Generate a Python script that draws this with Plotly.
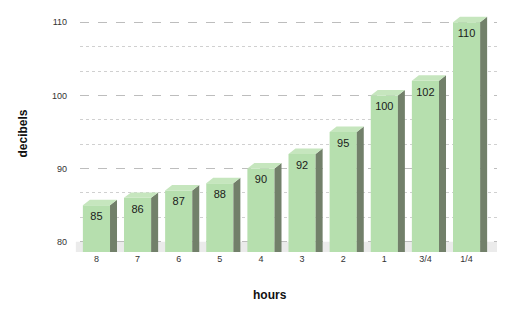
import plotly.graph_objects as go

hours = ["8", "7", "6", "5", "4", "3", "2", "1", "3/4", "1/4"]
decibels = [85, 86, 87, 88, 90, 92, 95, 100, 102, 110]
y_ticks = [80, 90, 100, 110]

base = 78.6
half = 0.33
dx = 0.17
dy = 0.75
xs = list(range(len(hours)))

front_c = "#b6dfae"
side_c = "#72806a"
top_c = "#c6e6be"

fig = go.Figure()

# floor
fig.add_shape(type="rect", xref="paper", yref="y", x0=-0.01, x1=1.0, y0=base, y1=80,
              fillcolor="#ebebeb", line=dict(width=0), layer="below")

fig.add_trace(go.Bar(x=xs, y=[v - base for v in decibels], base=base, width=2 * half,
                     marker=dict(color=front_c, line=dict(width=0)), hoverinfo="skip"))

sx, sy, tx, ty = [], [], [], []
for i, v in zip(xs, decibels):
    r = i + half
    l = i - half
    sx += [r, r, r + dx, r + dx, r, None]
    sy += [base, v, v + dy, base, base, None]
    tx += [l, r, r + dx, l + dx, l, None]
    ty += [v, v, v + dy, v + dy, v, None]

fig.add_trace(go.Scatter(x=sx, y=sy, fill="toself", fillcolor=side_c, mode="lines",
                         line=dict(width=0, color=side_c), hoverinfo="skip"))
fig.add_trace(go.Scatter(x=tx, y=ty, fill="toself", fillcolor=top_c, mode="lines",
                         line=dict(width=0, color=top_c), hoverinfo="skip"))

fig.add_trace(go.Scatter(x=xs, y=[v - 0.9 for v in decibels], mode="text",
                         text=[str(v) for v in decibels], textposition="bottom center",
                         textfont=dict(family="Liberation Sans, Arial", size=11, color="#1a1a1a"),
                         hoverinfo="skip"))

minor_vals = [80 + k * 10 / 3 for k in range(10) if k % 3 != 0]

# page body has an 8px margin, so the figure is sized/offset to compensate
fig.update_layout(
    width=505, height=310,
    margin=dict(l=72, r=16, t=7, b=66),
    paper_bgcolor="white", plot_bgcolor="white",
    showlegend=False,
    font=dict(family="Liberation Sans, Arial", size=9, color="#333"),
    xaxis=dict(range=[-0.4, 9.74], tickvals=xs, ticktext=hours, showgrid=False,
               zeroline=False, showline=False, ticks="", tickfont=dict(size=9)),
    yaxis=dict(range=[base, 111], tickvals=y_ticks, showgrid=True, gridcolor="#bdbdbd",
               griddash="dash", gridwidth=1, zeroline=False, showline=False, ticks="",
               ticklabelstandoff=12, tickfont=dict(size=9),
               minor=dict(tickvals=minor_vals, showgrid=True, gridcolor="#d0d0d0",
                          griddash="dot", gridwidth=1)),
    annotations=[
        dict(text="<b>decibels</b>", xref="paper", yref="paper", x=-0.139, y=0.5,
             xanchor="center", yanchor="middle", textangle=-90, showarrow=False,
             font=dict(size=12, color="#111")),
        dict(text="<b>hours</b>", xref="paper", yref="paper", x=0.455, y=-0.181,
             xanchor="center", yanchor="middle", showarrow=False,
             font=dict(size=12, color="#111")),
    ],
)

fig.write_html("out.html")
